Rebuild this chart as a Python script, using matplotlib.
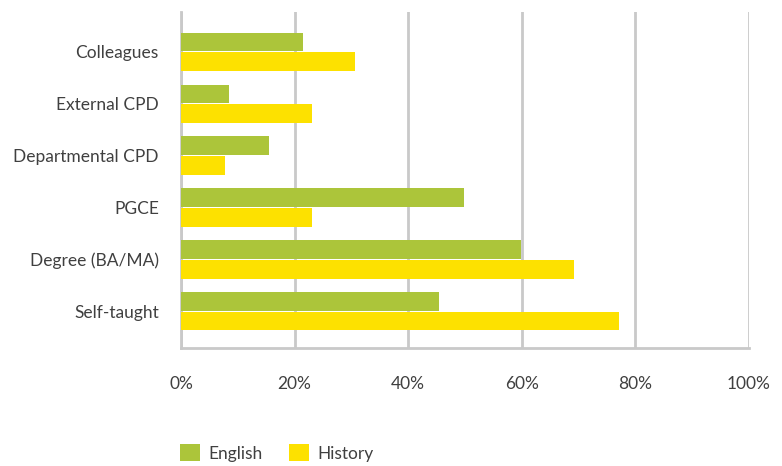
import matplotlib.pyplot as plt
import numpy as np
from matplotlib.ticker import FuncFormatter

# Data (percent of respondents)
categories = ['Colleagues', 'External CPD', 'Departmental CPD', 'PGCE', 'Degree (BA/MA)', 'Self-taught']
english = [21.4, 8.4, 15.5, 49.9, 59.9, 45.5]
history = [30.6, 23.0, 7.7, 23.0, 69.2, 77.2]
x_ticks = [0, 20, 40, 60, 80, 100]

green = '#acc53a'
yellow = '#fde100'
grid_col = '#c9c9c9'
text_col = '#404040'

plt.rcParams['font.family'] = ['Lato', 'DejaVu Sans']

fig = plt.figure(figsize=(7.82, 4.66), dpi=100)
ax = fig.add_axes([181 / 782, 1 - 348 / 466, (749 - 181) / 782, (348 - 12) / 466])

y = np.arange(len(categories))
h = 0.36
ax.barh(y - h / 2 - 0.01, english, height=h, color=green, label='English', zorder=3)
ax.barh(y + h / 2 + 0.01, history, height=h, color=yellow, label='History', zorder=3)

ax.set_ylim(5.71, -0.77)
ax.set_xlim(0, 100)
ax.set_yticks(y)
ax.set_yticklabels(categories)
ax.set_xticks(x_ticks)
ax.xaxis.set_major_formatter(FuncFormatter(lambda v, p: f'{v:.0f}%'))

ax.grid(axis='x', color=grid_col, linewidth=2, zorder=0)
for s in ['top', 'right']:
    ax.spines[s].set_visible(False)
ax.spines['left'].set_color(grid_col)
ax.spines['left'].set_linewidth(2)
ax.spines['bottom'].set_color(grid_col)
ax.spines['bottom'].set_linewidth(2)
ax.tick_params(axis='both', length=0, labelsize=12.5, colors=text_col)
ax.tick_params(axis='y', pad=16)
ax.tick_params(axis='x', pad=20)

fig.legend(loc='center left', bbox_to_anchor=(164 / 782, 1 - 453 / 466), ncol=2, frameon=False,
           fontsize=12.5, handlelength=1.15, handleheight=1.15, columnspacing=1.5,
           handletextpad=0.5, labelcolor=text_col)

fig.savefig('out.png', dpi=100)
